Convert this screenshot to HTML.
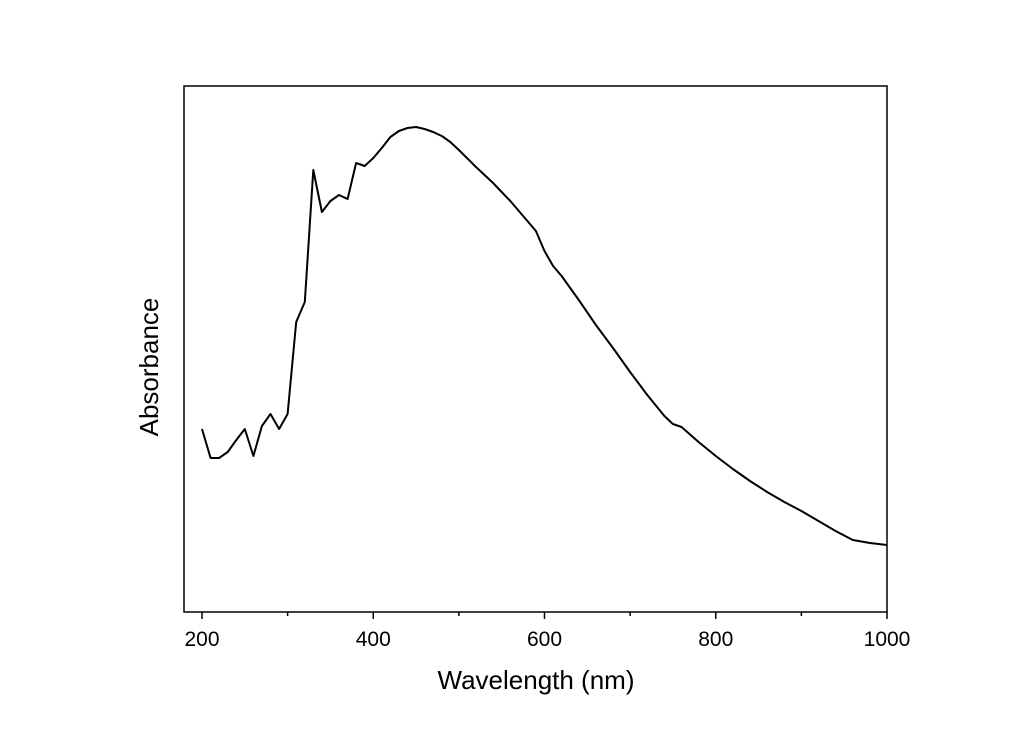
<!DOCTYPE html>
<html><head><meta charset="utf-8"><style>
body{margin:0;background:#fff;}
svg{display:block;font-family:"Liberation Sans",Arial,sans-serif;}
</style></head><body>
<svg id="chart" width="1031" height="736">
<rect x="184" y="86" width="703" height="526" fill="none" stroke="#000" stroke-width="1.5"/>
<g id="xaxis"></g>
<path id="line" fill="none" stroke="#000" stroke-width="2" stroke-linejoin="round"/>
<text x="536" y="689" font-size="26" text-anchor="middle">Wavelength (nm)</text>
<text transform="translate(158,367) rotate(-90)" font-size="26" text-anchor="middle">Absorbance</text>
</svg>
<script>
const wavelengths=[200,210,220,230,240,250,260,270,280,290,300,310,320,330,340,350,360,370,380,390,400,410,420,430,440,450,460,470,480,490,500,520,540,560,580,590,600,610,620,640,660,680,700,720,740,750,760,780,800,820,840,860,880,900,920,940,960,980,1000];
const absorbance=[0.366,0.308,0.308,0.32,0.344,0.366,0.312,0.372,0.396,0.366,0.396,0.58,0.62,0.884,0.80,0.822,0.834,0.826,0.898,0.892,0.908,0.928,0.95,0.962,0.968,0.97,0.966,0.96,0.952,0.94,0.924,0.89,0.858,0.822,0.782,0.762,0.722,0.692,0.672,0.624,0.574,0.528,0.48,0.434,0.392,0.376,0.37,0.34,0.312,0.286,0.262,0.24,0.22,0.202,0.182,0.162,0.144,0.138,0.134];
const majorTicks=[200,400,600,800,1000];
const minorTicks=[300,500,700,900];
const xs=v=>202+(v-200)*(887-202)/800;
const ys=v=>612-v*500;
const ns="http://www.w3.org/2000/svg";
const ax=document.getElementById('xaxis');
majorTicks.forEach(t=>{
  const l=document.createElementNS(ns,'line');
  l.setAttribute('x1',xs(t));l.setAttribute('x2',xs(t));l.setAttribute('y1',612);l.setAttribute('y2',619);
  l.setAttribute('stroke','#000');l.setAttribute('stroke-width','1.5');
  
  
  ax.appendChild(l);
  const tx=document.createElementNS(ns,'text');
  tx.setAttribute('x',xs(t));tx.setAttribute('y',646);tx.setAttribute('font-size','21');tx.setAttribute('text-anchor','middle');
  tx.textContent=t;
  
  
  ax.appendChild(tx);
});
minorTicks.forEach(t=>{
  const l=document.createElementNS(ns,'line');
  l.setAttribute('x1',xs(t));l.setAttribute('x2',xs(t));l.setAttribute('y1',612);l.setAttribute('y2',616);
  l.setAttribute('stroke','#000');l.setAttribute('stroke-width','1.5');
  
  
  ax.appendChild(l);
});
document.getElementById('line').setAttribute('d',wavelengths.map((w,i)=>(i?'L':'M')+xs(w).toFixed(1)+','+ys(absorbance[i]).toFixed(1)).join(''));
</script>
</body></html>
